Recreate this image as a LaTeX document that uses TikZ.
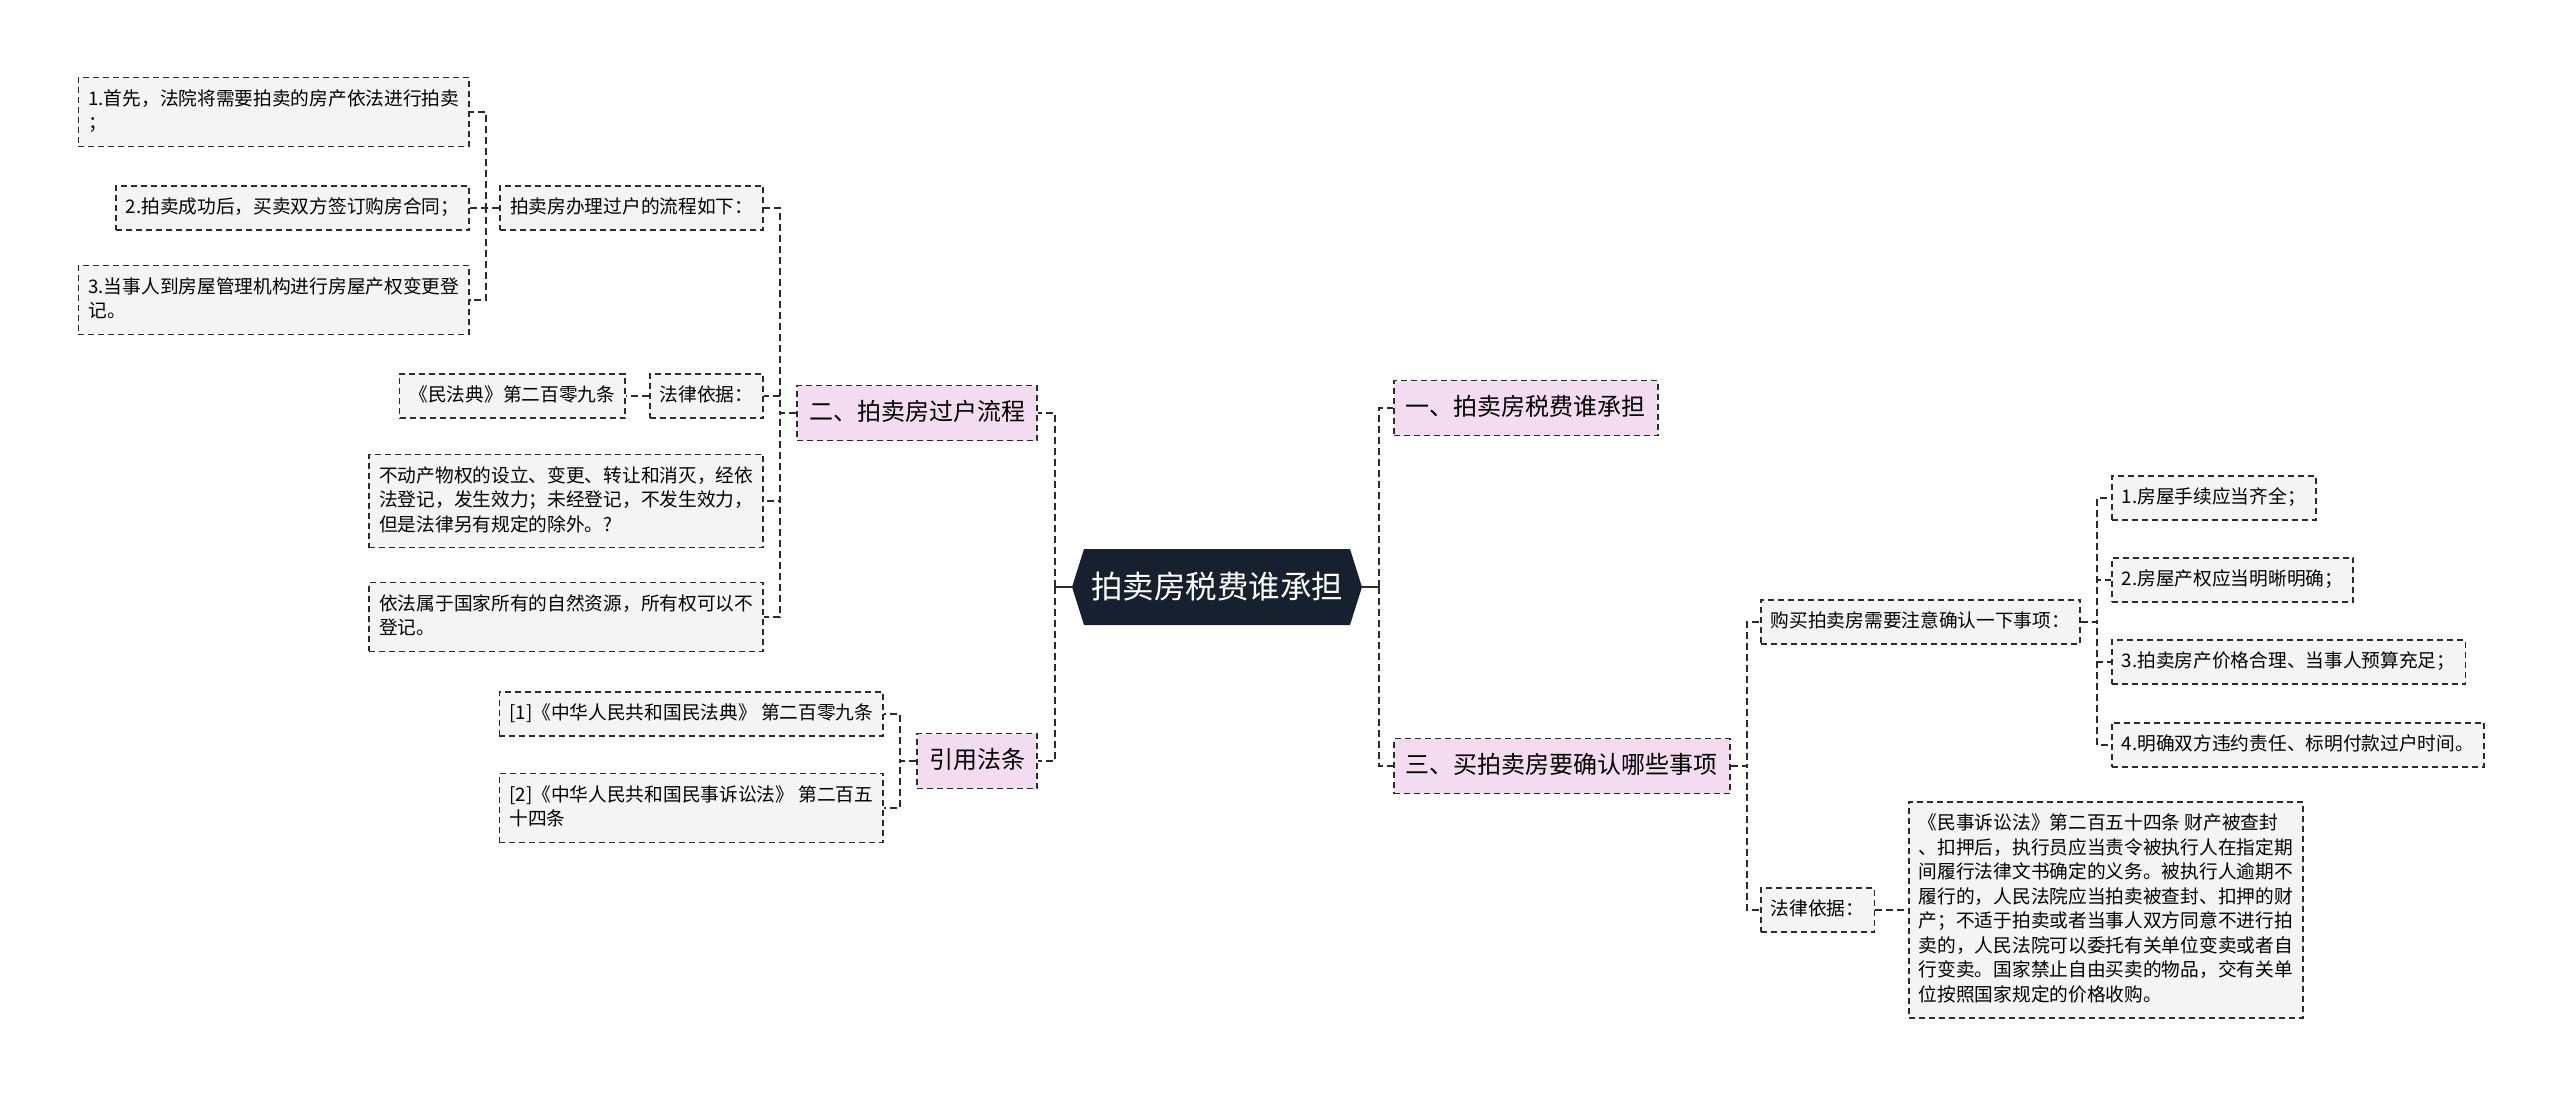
\documentclass[tikz,border=0pt]{standalone}
\usepackage{fontspec}
\setmainfont{Noto Sans CJK SC}
\usetikzlibrary{shapes.symbols}
\definecolor{linec}{HTML}{2B2B2B}
\definecolor{leaff}{HTML}{F4F4F4}
\definecolor{topicf}{HTML}{F4DCF0}
\definecolor{rootf}{HTML}{17202F}
\newcommand{\leaffont}{\fontsize{18.7pt}{24.5pt}\selectfont}
\newcommand{\topicfont}{\fontsize{24pt}{29pt}\selectfont}
\newcommand{\rootfont}{\fontsize{31.5pt}{38pt}\selectfont}
\newcommand{\leafstrut}{\rule[-4.5pt]{0pt}{18.5pt}}
\tikzset{
	box/.style={draw=linec, line width=1.6pt, dash pattern=on 6pt off 4pt},
	leaf/.style={box, fill=leaff, font=\leaffont, align=left, inner xsep=10pt, inner ysep=12pt,
			execute at begin node=\leafstrut, execute at end node=\leafstrut},
	topic/.style={box, fill=topicf, font=\topicfont, inner xsep=12pt, inner ysep=15.5pt,
			text height=19pt, text depth=5pt},
	root/.style={shape=signal, signal to=west and east, signal pointer angle=145,
			fill=rootf, text=white, font=\rootfont, minimum height=76pt, inner xsep=7pt},
	link/.style={draw=linec, line width=2pt, dash pattern=on 7pt off 4pt},
	rootlink/.style={draw=linec, line width=2pt}
}

\begin{document}
\begin{tikzpicture}[x=1pt,y=-1pt]
		\useasboundingbox (0,0) rectangle (2560,1095);

		% centre
		\node [root] (root) at (1217,587) {拍卖房税费谁承担};
		\coordinate (lt) at (1055,587);
		\coordinate (rt) at (1379,587);

		% left side
		\node [topic, anchor=east] (guohu) at (1038,413) {二、拍卖房过户流程};
		\node [topic, anchor=east] (fatiao) at (1038,761) {引用法条};

		\node [leaf, anchor=east] (liucheng) at (764,208) {拍卖房办理过户的流程如下：};
		\node [leaf, anchor=east] (yijul) at (764,396) {法律依据：};
		\node [leaf, anchor=east] (wuquan) at (764,501) {不动产物权的设立、变更、转让和消灭，经依\\法登记，发生效力；未经登记，不发生效力，\\但是法律另有规定的除外。?};
		\node [leaf, anchor=east] (ziran) at (764,617) {依法属于国家所有的自然资源，所有权可以不\\登记。};

		\node [leaf, anchor=east] (buzhou1) at (470,112) {1.首先，法院将需要拍卖的房产依法进行拍卖\\；};
		\node [leaf, anchor=east] (buzhou2) at (470,208) {2.拍卖成功后，买卖双方签订购房合同；};
		\node [leaf, anchor=east] (buzhou3) at (470,300) {3.当事人到房屋管理机构进行房屋产权变更登\\记。};

		\node [leaf, anchor=east] (minfadian) at (626,396) {《民法典》第二百零九条};

		\node [leaf, anchor=east] (yinyong1) at (884,714) {[1]《中华人民共和国民法典》 第二百零九条};
		\node [leaf, anchor=east] (yinyong2) at (884,808) {[2]《中华人民共和国民事诉讼法》 第二百五\\十四条};

		% right side
		\node [topic, anchor=west] (shuifei) at (1393,408) {一、拍卖房税费谁承担};
		\node [topic, anchor=west] (queren) at (1393,766) {三、买拍卖房要确认哪些事项};

		\node [leaf, anchor=west] (goumai) at (1760,622) {购买拍卖房需要注意确认一下事项：};
		\node [leaf, anchor=west] (yijur) at (1760,910) {法律依据：};

		\node [leaf, anchor=west] (shixiang1) at (2111,498) {1.房屋手续应当齐全；};
		\node [leaf, anchor=west] (shixiang2) at (2111,580) {2.房屋产权应当明晰明确；};
		\node [leaf, anchor=west] (shixiang3) at (2111,662) {3.拍卖房产价格合理、当事人预算充足；};
		\node [leaf, anchor=west] (shixiang4) at (2111,745) {4.明确双方违约责任、标明付款过户时间。};

		\node [leaf, anchor=west] (susong) at (1908,910) {《民事诉讼法》第二百五十四条 财产被查封\\、扣押后，执行员应当责令被执行人在指定期\\间履行法律文书确定的义务。被执行人逾期不\\履行的，人民法院应当拍卖被查封、扣押的财\\产；不适于拍卖或者当事人双方同意不进行拍\\卖的，人民法院可以委托有关单位变卖或者自\\行变卖。国家禁止自由买卖的物品，交有关单\\位按照国家规定的价格收购。};

		% connectors
		\draw [rootlink] (root.west) -- (lt);
		\draw [rootlink] (root.east) -- (rt);
		\draw [link] (lt) |- (guohu.east);
		\draw [link] (lt) |- (fatiao.east);
		\draw [link] (rt) |- (shuifei.west);
		\draw [link] (rt) |- (queren.west);

		\foreach \n in {liucheng, yijul, wuquan, ziran}
		\draw [link] (guohu.west) -- ++(-16,0) |- (\n.east);
		\foreach \n in {buzhou1, buzhou2, buzhou3}
		\draw [link] (liucheng.west) -- ++(-13,0) |- (\n.east);
		\draw [link] (yijul.west) -- ++(-13,0) |- (minfadian.east);
		\foreach \n in {yinyong1, yinyong2}
		\draw [link] (fatiao.west) -- ++(-16,0) |- (\n.east);

		\foreach \n in {goumai, yijur}
		\draw [link] (queren.east) -- ++(16,0) |- (\n.west);
		\foreach \n in {shixiang1, shixiang2, shixiang3, shixiang4}
		\draw [link] (goumai.east) -- ++(16,0) |- (\n.west);
		\draw [link] (yijur.east) -- ++(16,0) |- (susong.west);
	\end{tikzpicture}
\end{document}
